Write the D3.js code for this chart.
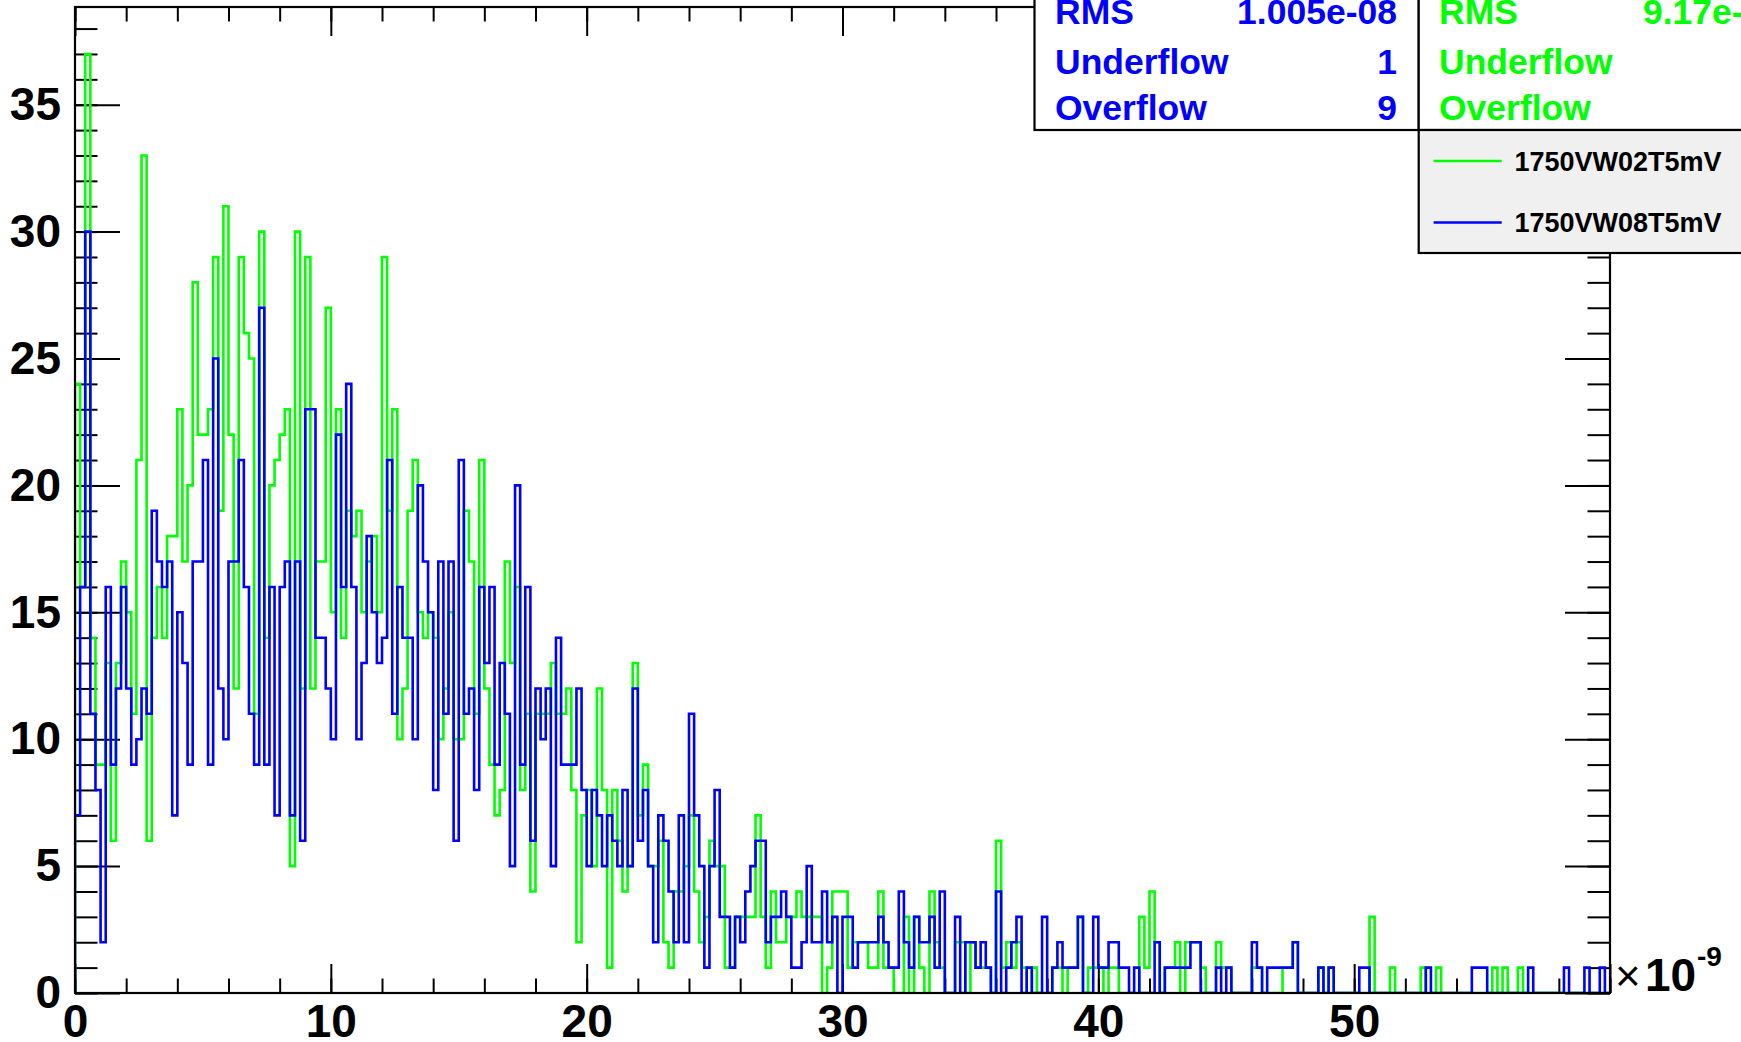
<!DOCTYPE html>
<html>
<head>
<meta charset="utf-8">
<script src="https://cdn.jsdelivr.net/npm/d3@7/dist/d3.min.js"></script>
<style>
  body { margin: 0; background: #fff; }
  text { font-family: "Liberation Sans", Arial, Helvetica, sans-serif; font-weight: bold; }
  .axis text { font-size: 46px; fill: #000; }
  .axis line { stroke: #000; stroke-width: 2; }
</style>
</head>
<body>
<svg id="chart"></svg>
<script>
// histogram range (x in units of 1e-9), 300 bins
var xMin = 0, xMax = 60;

// counts per bin
var greenCounts = [
  24,16,37,14,9,9,13,6,13,17,
  15,11,21,33,6,14,16,14,18,18,
  23,17,20,28,22,22,23,29,19,31,
  22,12,29,26,25,11,30,14,20,21,
  22,23,5,30,12,29,12,17,17,27,
  15,23,14,19,18,19,15,17,18,15,
  29,19,23,10,12,19,21,15,14,15,
  14,10,12,15,10,10,19,17,11,21,
  12,9,7,8,17,13,16,8,11,4,
  11,11,11,13,11,11,12,8,2,7,
  8,5,12,8,1,8,6,4,5,13,
  7,9,5,5,6,2,1,4,4,5,
  7,4,2,3,6,5,5,1,1,3,
  3,3,3,7,3,1,4,2,2,3,
  3,4,3,3,3,3,0,1,4,4,
  4,1,2,2,2,1,1,4,1,1,
  0,0,3,0,3,1,0,4,2,1,
  0,0,2,2,0,2,1,1,1,0,
  6,1,2,1,2,1,0,1,0,0,
  0,1,1,0,1,1,3,0,1,1,
  1,0,1,1,0,0,0,0,3,1,
  4,2,0,1,1,2,0,2,2,2,
  1,0,0,2,1,1,0,0,0,0,
  1,1,0,0,0,0,1,1,2,0,
  0,0,0,1,0,1,0,0,0,0,
  0,0,0,3,0,0,0,1,0,0,
  0,0,0,1,0,0,1,0,0,0,
  0,0,0,0,0,0,0,1,0,1,
  0,0,1,0,0,0,0,0,0,0,
  0,0,0,0,0,0,0,0,0,0
];

var blueCounts = [
  7,16,30,11,8,2,16,9,12,16,
  12,9,10,12,11,19,17,16,17,7,
  15,13,9,17,17,21,9,25,12,10,
  17,17,21,16,11,9,27,9,16,7,
  16,17,7,17,6,23,23,14,14,12,
  10,22,16,24,16,10,13,18,15,13,
  14,21,11,16,14,14,10,20,17,15,
  8,17,11,17,6,21,11,12,8,16,
  13,16,9,13,11,5,20,9,16,6,
  12,10,12,5,14,9,9,9,12,8,
  5,8,7,5,7,6,5,8,5,12,
  6,8,5,2,7,6,4,2,7,2,
  11,7,5,1,5,8,3,3,1,3,
  2,4,5,6,6,2,3,3,4,3,
  1,1,2,5,2,2,4,2,3,0,
  3,3,1,2,2,2,2,3,2,1,
  1,4,2,1,3,2,2,3,1,4,
  0,0,3,0,2,2,1,2,1,0,
  4,0,1,2,3,0,1,0,0,3,
  0,1,2,1,1,1,3,0,0,3,
  1,1,2,2,1,1,0,1,0,0,
  0,2,0,1,1,1,1,1,2,2,
  0,0,0,1,0,1,0,0,0,0,
  2,1,0,1,1,1,1,1,2,0,
  0,0,0,1,0,1,0,0,0,0,
  0,1,1,0,0,0,0,0,0,0,
  0,0,0,0,1,0,0,0,0,0,
  0,0,0,1,1,1,0,0,0,0,
  0,0,0,0,1,0,0,0,0,0,
  0,1,0,0,0,1,0,0,1,0
];

var xMajorTicks = [0,10,20,30,40,50,60];
var xTickLabels = ["0","10","20","30","40","50",""];
var yMajorTicks = [0,5,10,15,20,25,30,35];
var yTickLabels = ["0","5","10","15","20","25","30","35"];

var seriesNames = ["1750VW02T5mV","1750VW08T5mV"];
var statNames = ["RMS","Underflow","Overflow"];
var blueStats = ["1.005e-08","1","9"];
var greenStats = ["9.17e-09","",""];

var width = 1741, height = 1042;
var frame = {left: 75, right: 1610, top: 7, bottom: 993};
var yMax = 37 * 1.05;

var svg = d3.select("#chart")
            .attr("width", width)
            .attr("height", height);

var x = d3.scaleLinear().domain([xMin, xMax]).range([frame.left, frame.right]);
var y = d3.scaleLinear().domain([0, yMax]).range([frame.bottom, frame.top]);

// minor tick values
var xMinor = d3.range(0, 61, 2);
var yMinor = d3.range(0, 39, 1);

var drawAxis = function(axis, tx, ty){
  var g = svg.append("g")
             .attr("class", "axis")
             .attr("transform", "translate(" + tx + "," + ty + ")")
             .call(axis);
  g.select(".domain").remove();
  return g;
}

// bottom + left axes with labels
drawAxis(d3.axisBottom(x).tickValues(xMajorTicks).tickSize(-29).tickPadding(11)
           .tickFormat(function(d, i){ return xTickLabels[i]; }), 0, frame.bottom);
drawAxis(d3.axisBottom(x).tickValues(xMinor).tickSize(-14.5).tickFormat(""), 0, frame.bottom);
drawAxis(d3.axisLeft(y).tickValues(yMajorTicks).tickSize(-45).tickPadding(14)
           .tickFormat(function(d, i){ return yTickLabels[i]; }), frame.left, 0);
drawAxis(d3.axisLeft(y).tickValues(yMinor).tickSize(-22.5).tickFormat(""), frame.left, 0);

// top + right ticks, no labels
drawAxis(d3.axisTop(x).tickValues(xMajorTicks).tickSize(-29).tickFormat(""), 0, frame.top);
drawAxis(d3.axisTop(x).tickValues(xMinor).tickSize(-14.5).tickFormat(""), 0, frame.top);
drawAxis(d3.axisRight(y).tickValues(yMajorTicks).tickSize(-45).tickFormat(""), frame.right, 0);
drawAxis(d3.axisRight(y).tickValues(yMinor).tickSize(-22.5).tickFormat(""), frame.right, 0);

// histograms
svg.append("clipPath").attr("id", "plotClip")
   .append("rect")
   .attr("x", frame.left).attr("y", frame.top)
   .attr("width", frame.right - frame.left)
   .attr("height", frame.bottom - frame.top);

var stepPoints = function(counts){
  var w = (xMax - xMin) / counts.length;
  var pts = [[xMin, 0]];
  counts.forEach(function(c, i){
    pts.push([xMin + i * w, c]);
    pts.push([xMin + (i + 1) * w, c]);
  });
  pts.push([xMax, 0]);
  return pts;
}

var line = d3.line()
             .x(function(d){ return x(d[0]); })
             .y(function(d){ return y(d[1]); });

var drawHist = function(counts, color){
  svg.append("path")
     .attr("d", line(stepPoints(counts)))
     .attr("fill", "none")
     .attr("stroke", color)
     .attr("stroke-width", 2.6)
     .attr("clip-path", "url(#plotClip)");
}

drawHist(greenCounts, "#00ff00");
drawHist(blueCounts, "#0000ff");

// frame
svg.append("rect")
   .attr("x", frame.left).attr("y", frame.top)
   .attr("width", frame.right - frame.left)
   .attr("height", frame.bottom - frame.top)
   .attr("fill", "none")
   .attr("stroke", "#000")
   .attr("stroke-width", 2.2);

// x10^-9 multiplier
svg.append("text").text("\u00d7")
   .attr("x", 1615).attr("y", 991)
   .style("font-weight", "normal").style("font-size", "44px");
svg.append("text").text("10")
   .attr("x", 1645).attr("y", 991)
   .style("font-size", "46px");
svg.append("text").text("-9")
   .attr("x", 1697).attr("y", 966)
   .style("font-size", "28px");

// stats boxes
var drawStats = function(x0, x1, textX, valueX, anchor, values, color){
  svg.append("rect")
     .attr("x", x0).attr("y", -10)
     .attr("width", x1 - x0).attr("height", 140)
     .attr("fill", "#fff")
     .attr("stroke", "#000")
     .attr("stroke-width", 2.2);
  var rows = [23.5, 73.5, 120];
  statNames.forEach(function(name, i){
    svg.append("text").text(name)
       .attr("x", textX).attr("y", rows[i])
       .attr("fill", color)
       .style("font-size", "35.5px");
    svg.append("text").text(values[i])
       .attr("x", valueX).attr("y", rows[i])
       .attr("text-anchor", anchor)
       .attr("fill", color)
       .style("font-size", "35.5px");
  });
}

drawStats(1034.5, 1418.7, 1055, 1397, "end", blueStats, "#0000ff");
drawStats(1418.7, 1800, 1439, 1643, "start", greenStats, "#00ff00");

// legend
svg.append("rect")
   .attr("x", 1418.7).attr("y", 130)
   .attr("width", 400).attr("height", 123)
   .attr("fill", "#f0f0f0")
   .attr("stroke", "#000")
   .attr("stroke-width", 2.2);

var legendColors = ["#00ff00", "#0000ff"];
var legendRows = [161, 222.5];
seriesNames.forEach(function(name, i){
  svg.append("line")
     .attr("x1", 1433.6).attr("x2", 1501.7)
     .attr("y1", legendRows[i]).attr("y2", legendRows[i])
     .attr("stroke", legendColors[i])
     .attr("stroke-width", 2.6);
  svg.append("text").text(name)
     .attr("x", 1514.5).attr("y", legendRows[i] + 9.5)
     .attr("fill", "#000")
     .style("font-size", "27px");
});
</script>
</body>
</html>
